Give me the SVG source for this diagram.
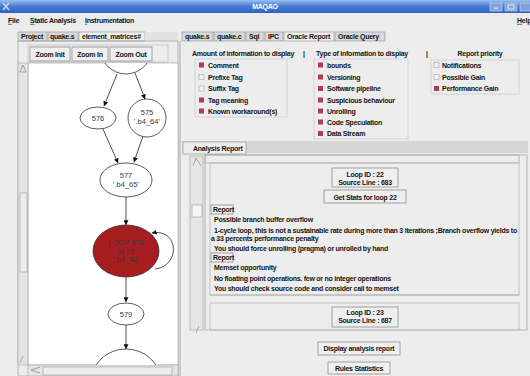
<svg xmlns="http://www.w3.org/2000/svg" width="530" height="376" viewBox="0 0 530 376">
<style>
.t{font-family:"Liberation Sans",Arial,sans-serif;font-weight:bold;font-size:7px;letter-spacing:-0.25px;fill:#151515}
.tc{text-anchor:middle}
.n{font-family:"Liberation Sans",Arial,sans-serif;font-size:7.5px;fill:#3a3a3a;text-anchor:middle}
.btn{fill:#efefef;stroke:#8e8e8e;stroke-width:0.8}
.tab{fill:#d9d9d9;stroke:#9a9a9a;stroke-width:0.7}
.tabs{fill:#eeeeee;stroke:#9a9a9a;stroke-width:0.7}
.grp{fill:none;stroke:#cdcdcd;stroke-width:0.8}
.on{fill:#b23a5e}
.off{fill:#f3f3f3;stroke:#a3a3a3;stroke-width:0.6}
.node{fill:#ffffff;stroke:#333;stroke-width:0.8}
.edge{fill:none;stroke:#222;stroke-width:0.8;marker-end:url(#ah)}
.fr{fill:none;stroke:#a8a8a8;stroke-width:0.8}
.ul{stroke:#151515;stroke-width:0.6}
</style>
<defs>
<linearGradient id="tb" x1="0" y1="0" x2="0" y2="1">
<stop offset="0" stop-color="#9dbdf0"/>
<stop offset="0.45" stop-color="#4b7fd6"/>
<stop offset="1" stop-color="#2f62c0"/>
</linearGradient>
<marker id="ah" viewBox="0 0 8 8" refX="7.5" refY="4" markerWidth="5" markerHeight="5" orient="auto" markerUnits="userSpaceOnUse">
<path d="M0,0 L8,4 L0,8 Z" fill="#111"/>
</marker>
<clipPath id="cv"><rect x="28" y="63" width="150" height="302"/></clipPath>
</defs>
<rect width="530" height="376" fill="#ededed"/>
<!-- title bar -->
<rect x="0" y="0" width="530" height="13" fill="url(#tb)"/>
<path d="M3,3 L9,10 M9,3 L3,10" stroke="#cfd8e6" stroke-width="1.5"/>
<text x="265" y="9" class="t tc" style="fill:#fff;font-size:7px">MAQAO</text>
<rect x="490" y="3" width="12" height="8" fill="#7fa3dc" stroke="#c9d8f2" stroke-width="0.6"/>
<rect x="505" y="3" width="12" height="8" fill="#7fa3dc" stroke="#c9d8f2" stroke-width="0.6"/>
<rect x="520" y="3" width="12" height="8" fill="#7fa3dc" stroke="#c9d8f2" stroke-width="0.6"/>
<path d="M494,8 h4" stroke="#fff" stroke-width="1"/>
<rect x="508" y="5" width="6" height="4" fill="none" stroke="#fff" stroke-width="0.8"/>
<!-- menu bar -->
<rect x="0" y="13" width="530" height="13" fill="#ececec"/>
<text x="8" y="23" class="t">File</text>
<line x1="8" y1="24.3" x2="12" y2="24.3" class="ul"/>
<text x="30" y="23" class="t">Static Analysis</text>
<line x1="30" y1="24.3" x2="34.5" y2="24.3" class="ul"/>
<text x="85" y="23" class="t">Instrumentation</text>
<line x1="85" y1="24.3" x2="87" y2="24.3" class="ul"/>
<text x="517" y="23" class="t">Help</text>
<line x1="517" y1="24.3" x2="522" y2="24.3" class="ul"/>
<!-- left tabs -->
<rect x="18" y="32" width="29" height="9" class="tab"/>
<text x="21" y="39" class="t">Project</text>
<rect x="48" y="32" width="30" height="9" class="tab"/>
<text x="50" y="39" class="t">quake.s</text>
<rect x="79" y="32" width="66" height="9" class="tabs"/>
<text x="82" y="39" class="t">element_matrices#</text>
<rect x="145" y="32" width="33" height="9" fill="#e2e2e2"/>
<!-- right tabs -->
<rect x="182" y="32" width="31" height="9" class="tab"/>
<text x="185" y="39" class="t">quake.s</text>
<rect x="214" y="32" width="31" height="9" class="tab"/>
<text x="217" y="39" class="t">quake.c</text>
<rect x="246" y="32" width="18" height="9" class="tab"/>
<text x="249" y="39" class="t">Sql</text>
<rect x="265" y="32" width="18" height="9" class="tab"/>
<text x="268" y="39" class="t">IPC</text>
<rect x="284" y="32" width="50" height="9" class="tabs"/>
<text x="287" y="39" class="t">Oracle Report</text>
<rect x="335" y="32" width="50" height="9" class="tab"/>
<text x="338" y="39" class="t">Oracle Query</text>
<!-- left panel -->
<rect x="18" y="41" width="160" height="335" class="fr"/>
<rect x="28" y="45" width="140" height="17" class="fr" style="stroke:#c4c4c4"/>
<rect x="30" y="47" width="40" height="14" class="btn"/>
<text x="50" y="56.5" class="t tc">Zoom Init</text>
<rect x="72" y="47" width="36" height="14" class="btn"/>
<text x="90" y="56.5" class="t tc">Zoom In</text>
<rect x="110" y="47" width="42" height="14" class="btn"/>
<text x="131" y="56.5" class="t tc">Zoom Out</text>
<rect x="28" y="63" width="150" height="302" fill="#ffffff" stroke="#9a9a9a" stroke-width="0.6"/>
<rect x="18" y="63" width="10" height="302" fill="#e4e4e4" stroke="#a0a0a0" stroke-width="0.6"/>
<path d="M20,72 L23,65 L26,72 Z" fill="none" stroke="#888" stroke-width="0.7"/>
<rect x="20" y="193" width="7" height="79" fill="#ededed" stroke="#999" stroke-width="0.6"/>
<path d="M20,363 L23,356" stroke="#888" stroke-width="0.7"/>
<rect x="28" y="365" width="150" height="11" fill="#e4e4e4" stroke="#a0a0a0" stroke-width="0.6"/>
<path d="M40,367 L31,370 L40,373" fill="none" stroke="#888" stroke-width="0.7"/>
<rect x="43" y="367" width="129" height="8" fill="#ededed" stroke="#999" stroke-width="0.6"/>
<!-- graph -->
<g clip-path="url(#cv)">
<g id="connectors">
<line x1="117" y1="74" x2="104" y2="106" class="edge"/>
<line x1="135" y1="73" x2="145" y2="99" class="edge"/>
<line x1="103" y1="129" x2="118" y2="163" class="edge"/>
<line x1="143" y1="136" x2="134" y2="162" class="edge"/>
<line x1="126" y1="197" x2="126" y2="225" class="edge"/>
<path d="M155,269 C181,266 179,228 152,233" class="edge"/>
<line x1="126" y1="277" x2="126" y2="302" class="edge"/>
<line x1="126" y1="325" x2="126" y2="349" class="edge"/>
</g>
<g id="node-top"><ellipse cx="126" cy="45" rx="27" ry="29" class="node"/></g>
<g id="node-576"><ellipse cx="98" cy="118" rx="18" ry="11" class="node"/><text x="98" y="120.5" class="n">576</text></g>
<g id="node-575"><ellipse cx="147" cy="118" rx="19" ry="19" class="node"/><text x="147" y="115" class="n">575</text><text x="147" y="124" class="n">'.b4_64'</text></g>
<g id="node-577"><ellipse cx="126" cy="180" rx="26" ry="17" class="node"/><text x="126" y="178" class="n">577</text><text x="126" y="187" class="n">'.b4_65'</text></g>
<g id="node-578"><ellipse cx="126" cy="251" rx="33" ry="26" class="node" style="fill:#a81d20"/><text x="126" y="245" class="n">LOOP 578</text><text x="126" y="253.5" class="n">id 22</text><text x="126" y="262" class="n">'.b4_32'</text></g>
<g id="node-579"><ellipse cx="126" cy="314" rx="18" ry="11" class="node"/><text x="126" y="316.5" class="n">579</text></g>
<g id="node-bottom"><ellipse cx="126" cy="380" rx="34" ry="31" class="node"/></g>
</g>
<!-- right panel -->
<line x1="180" y1="41" x2="180" y2="376" stroke="#9a9a9a" stroke-width="0.8"/>
<text x="192" y="56" class="t">Amount of information to display</text>
<text x="303" y="56" class="t">|</text>
<text x="316" y="56" class="t">Type of information to display</text>
<text x="426" y="56" class="t">|</text>
<text x="480" y="56" class="t tc">Report priority</text>
<rect x="195" y="59" width="92" height="58" class="grp"/>
<rect x="314" y="59" width="94" height="80" class="grp"/>
<rect x="431" y="60" width="88" height="34" class="grp"/>
<rect x="199" y="62.5" width="5" height="5" class="on"/><text x="208" y="67.5" class="t">Comment</text>
<rect x="199" y="74.5" width="5" height="5" class="off"/><text x="208" y="79.5" class="t">Prefixe Tag</text>
<rect x="199" y="86" width="5" height="5" class="off"/><text x="208" y="91" class="t">Suffix  Tag</text>
<rect x="199" y="97.5" width="5" height="5" class="on"/><text x="208" y="102.5" class="t">Tag meaning</text>
<rect x="199" y="108.5" width="5" height="5" class="on"/><text x="208" y="113.5" class="t">Known workaround(s)</text>
<rect x="318" y="62.5" width="5" height="5" class="on"/><text x="327" y="67.5" class="t">bounds</text>
<rect x="318" y="74.5" width="5" height="5" class="on"/><text x="327" y="79.5" class="t">Versioning</text>
<rect x="318" y="86" width="5" height="5" class="on"/><text x="327" y="91" class="t">Software pipeline</text>
<rect x="318" y="97.5" width="5" height="5" class="on"/><text x="327" y="102.5" class="t">Suspicious behaviour</text>
<rect x="318" y="108.5" width="5" height="5" class="on"/><text x="327" y="113.5" class="t">Unrolling</text>
<rect x="318" y="119.5" width="5" height="5" class="on"/><text x="327" y="124.5" class="t">Code Speculation</text>
<rect x="318" y="131" width="5" height="5" class="on"/><text x="327" y="136" class="t">Data Stream</text>
<rect x="434" y="62.5" width="5" height="5" class="off"/><text x="442" y="67.5" class="t">Notifications</text>
<rect x="434" y="74.5" width="5" height="5" class="off"/><text x="442" y="79.5" class="t">Possible Gain</text>
<rect x="434" y="86" width="5" height="5" class="on"/><text x="442" y="91" class="t">Performance Gain</text>
<!-- analysis report tab -->
<rect x="182" y="141" width="346" height="12" fill="#d6d6d6"/>
<rect x="183" y="142" width="63" height="12" class="tabs"/>
<text x="193" y="151" class="t">Analysis Report</text>
<rect x="190" y="156" width="13" height="174" fill="#e6e6e6" stroke="#a8a8a8" stroke-width="0.7"/>
<path d="M193,166 L196,158 L201,166" fill="none" stroke="#888" stroke-width="0.7"/>
<rect x="192" y="205" width="10" height="12" fill="#f6f6f6" stroke="#999" stroke-width="0.6"/>
<path d="M196,333 L199,326" stroke="#888" stroke-width="0.7"/>
<rect x="205" y="155" width="322" height="175" class="fr"/>
<rect x="205" y="155" width="314" height="8" class="fr"/>
<rect x="210" y="163" width="309" height="132" class="fr" style="stroke:#b8b8b8"/>
<line x1="210" y1="295" x2="519" y2="295" stroke="#a8a8a8" stroke-width="0.8"/>
<rect x="210" y="303" width="309" height="27" class="fr" style="stroke:#b8b8b8"/>
<rect x="332" y="168" width="66" height="19" class="btn"/>
<text x="365" y="176.5" class="t tc">Loop ID :  22</text>
<text x="365" y="184.5" class="t tc">Source Line : 683</text>
<rect x="324" y="190" width="82" height="13" class="btn"/>
<text x="365" y="199.5" class="t tc">Get Stats for loop  22</text>
<rect x="211" y="205" width="22" height="9" class="btn"/>
<text x="213" y="212" class="t">Report</text>
<text x="214" y="222" class="t">Possible branch buffer overflow</text>
<text x="214" y="233" class="t" textLength="303" lengthAdjust="spacingAndGlyphs">1-cycle loop, this is not a sustainable rate during more than 3 iterations ;Branch overflow yields to</text>
<text x="211" y="241" class="t">a 33 percents performance penalty</text>
<text x="214" y="250.5" class="t">You should force unrolling (pragma) or unrolled by hand</text>
<rect x="211" y="253" width="22" height="9" class="btn"/>
<text x="213" y="260" class="t">Report</text>
<text x="214" y="269.5" class="t">Memset opportunity</text>
<text x="214" y="280.5" class="t">No floating point operations. few or no integer operations</text>
<text x="214" y="290.5" class="t">You should check source code and consider call to memset</text>
<rect x="332" y="307" width="66" height="20" class="btn"/>
<text x="365" y="314.5" class="t tc">Loop ID :  23</text>
<text x="365" y="322.5" class="t tc">Source Line : 687</text>
<rect x="318" y="342" width="82" height="13" class="btn"/>
<text x="359" y="351" class="t tc">Display analysis report</text>
<rect x="328" y="362" width="62" height="12" class="btn"/>
<text x="359" y="370.5" class="t tc">Rules Statistics</text>
</svg>
